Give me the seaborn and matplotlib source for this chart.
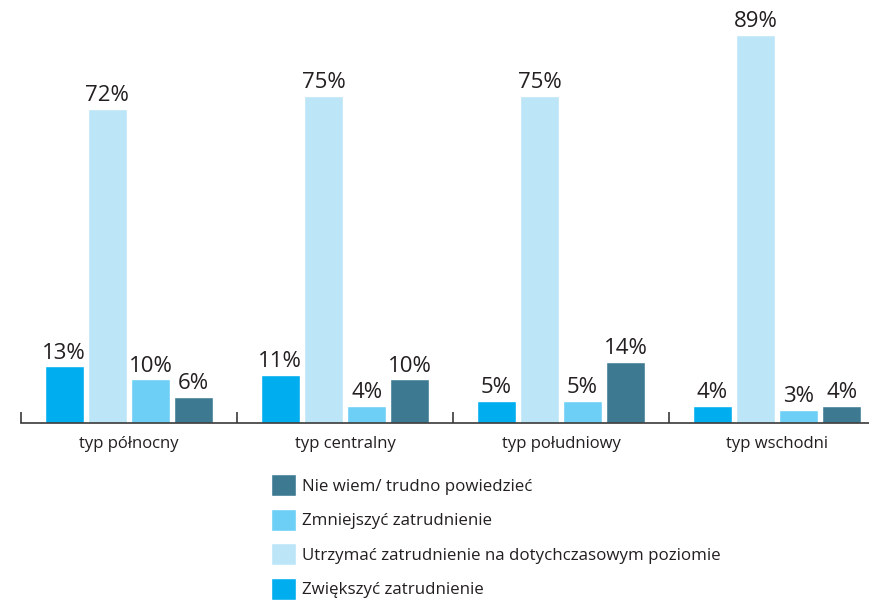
import matplotlib
matplotlib.use("Agg")
import matplotlib.pyplot as plt
import seaborn as sns
import pandas as pd

categories = ["typ północny", "typ centralny", "typ południowy", "typ wschodni"]
series = [
    "Zwiększyć zatrudnienie",
    "Utrzymać zatrudnienie na dotychczasowym poziomie",
    "Zmniejszyć zatrudnienie",
    "Nie wiem/ trudno powiedzieć",
]
zwiekszyc = [13, 11, 5, 4]
utrzymac = [72, 75, 75, 89]
zmniejszyc = [10, 4, 5, 3]
nie_wiem = [6, 10, 14, 4]
colors = ["#00AEEF", "#BCE5F8", "#6DCFF6", "#3D7A92"]

rows = []
for name, vals in zip(series, [zwiekszyc, utrzymac, zmniejszyc, nie_wiem]):
    for cat, v in zip(categories, vals):
        rows.append({"typ": cat, "odp": name, "val": v})
df = pd.DataFrame(rows)

sns.set_style("white")
plt.rcParams["font.family"] = ["Open Sans", "DejaVu Sans"]
text_color = "#231F20"
axis_color = "#3a3a3a"

fig = plt.figure(figsize=(8.7, 6.0), dpi=100)
ax = fig.add_axes([21 / 870, 1 - 423 / 600, 1 - 21 / 870, 423 / 600])

sns.barplot(data=df, x="typ", y="val", hue="odp", order=categories,
            hue_order=series, palette=colors, width=0.8, gap=0.09,
            saturation=1, ax=ax, legend=True)

for cont in ax.containers:
    ax.bar_label(cont, fmt="{:.0f}%", padding=2, fontsize=16, color=text_color)

ax.set_xlim(-0.5, -0.5 + 849 / 216)
ax.set_ylim(0, 97)
ax.set_xlabel("")
ax.set_ylabel("")
ax.set_yticks([])
for s in ["top", "right", "left"]:
    ax.spines[s].set_visible(False)
ax.spines["bottom"].set_color(axis_color)
ax.spines["bottom"].set_linewidth(1.2)

ax.set_xticks(range(len(categories)))
ax.set_xticklabels(categories, fontsize=12, color=text_color)
ax.tick_params(axis="x", which="major", length=0, pad=9)
ax.set_xticks([-0.5, 0.5, 1.5, 2.5], minor=True)
ax.tick_params(axis="x", which="minor", bottom=True, direction="in",
               length=8, width=1.2, color=axis_color)

handles, labels = ax.get_legend_handles_labels()
ax.get_legend().remove()
fig.legend(handles[::-1], labels[::-1], loc="upper left",
           bbox_to_anchor=(266 / 870, 1 - 469 / 600), frameon=False,
           fontsize=12.2, handlelength=1.5, handleheight=1.6,
           handletextpad=0.35, labelspacing=0.76, labelcolor=text_color,
           borderaxespad=0, borderpad=0.3)

fig.savefig("out.png", dpi=100)
